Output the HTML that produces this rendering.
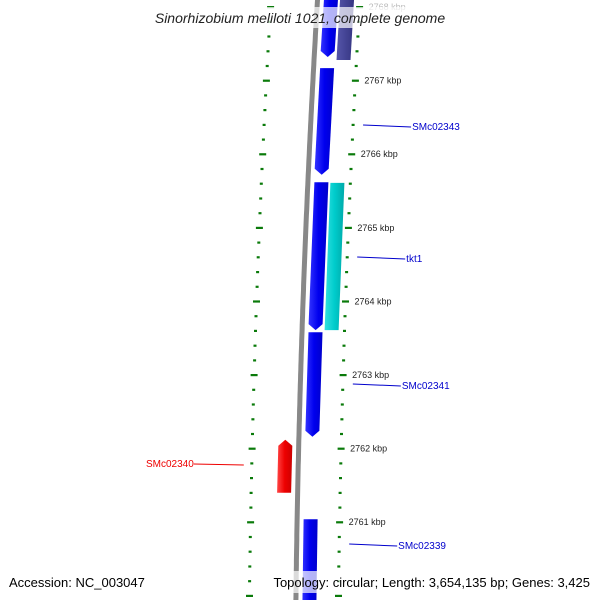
<!DOCTYPE html>
<html><head><meta charset="utf-8"><style>
html,body{margin:0;padding:0;background:#fff;}
svg{display:block;font-family:"Liberation Sans","DejaVu Sans",sans-serif;}
</style></head><body>
<svg id="map" width="600" height="600" viewBox="0 0 600 600" xmlns="http://www.w3.org/2000/svg">
<defs>
<linearGradient id="gb" x1="0" x2="1"><stop offset="0" stop-color="#3333ff"/><stop offset="0.5" stop-color="#0000ee"/><stop offset="1" stop-color="#0000cc"/></linearGradient>
<linearGradient id="gc" x1="0" x2="1"><stop offset="0" stop-color="#33e0e0"/><stop offset="0.5" stop-color="#00cccc"/><stop offset="1" stop-color="#00aaaa"/></linearGradient>
<linearGradient id="gr" x1="0" x2="1"><stop offset="0" stop-color="#ff4444"/><stop offset="0.5" stop-color="#ee0000"/><stop offset="1" stop-color="#cc0000"/></linearGradient>
<linearGradient id="gp" x1="0" x2="1"><stop offset="0" stop-color="#5555aa"/><stop offset="1" stop-color="#33337f"/></linearGradient>
</defs>
<g id="ticks"></g>
<g id="backbone"></g>
<g id="genes"></g>
<g id="labels"></g>
<rect x="130" y="7" width="340" height="21" fill="#fff" opacity="0.7"/>
<text x="300" y="23" text-anchor="middle" font-size="14" font-style="italic" fill="#222">Sinorhizobium meliloti 1021, complete genome</text>
<rect x="255" y="571" width="345" height="22" fill="#fff" opacity="0.7"/>
<text x="9" y="587" font-size="13" fill="#000">Accession: NC_003047</text>
<text x="590" y="587" text-anchor="end" font-size="13" fill="#000">Topology: circular; Length: 3,654,135 bp; Genes: 3,425</text>
</svg>
<script>
const majorTicks = [2768, 2767, 2766, 2765, 2764, 2763, 2762, 2761];
const tickLabels = ["2768 kbp","2767 kbp","2766 kbp","2765 kbp","2764 kbp","2763 kbp","2762 kbp","2761 kbp"];
const geneNames = ["g-top","g-purple","SMc02343","g-4","tkt1","SMc02341","SMc02340","SMc02339"];
const geneStart = [2768.3, 2768.3, 2767.17, 2765.62, 2765.61, 2763.58, 2762.12, 2761.04];
const geneEnd = [2767.32, 2767.28, 2765.72, 2763.61, 2763.61, 2762.16, 2761.40, 2759.7];
const geneLane = ["inner","outer","inner","inner","outer","inner","reverse","inner"];
const geneArrow = [true, false, true, true, false, true, true, false];
const geneLabelY = [null, null, 126, null, 258, 385, 463, 545];

const NS="http://www.w3.org/2000/svg";
function yOf(k){ return 7 + (2768 - k) * 73.6; }
function bx(y){ return 315 - 0.06*y + 0.00004*y*y; }
function mk(tag, attrs, parent){ const e=document.createElementNS(NS,tag); for(const a in attrs) e.setAttribute(a, attrs[a]); parent.appendChild(e); return e; }
const tg=document.getElementById('ticks'), bb=document.getElementById('backbone'), gg=document.getElementById('genes'), lg=document.getElementById('labels');

// backbone
let d=""; for(let y=-5;y<=605;y+=5){ d+=(y===-5?"M":"L")+(bx(y)+2.5).toFixed(1)+","+y; }
const bl=mk('path',{d:d,stroke:'#888',"stroke-width":5,fill:'none'},bb);



// ticks
for(let k=2768.4;k>=2759.8;k-=0.2){
  const kk=Math.round(k*10)/10; const y=yOf(kk); if(y<-3||y>603) continue;
  const major=Math.abs(kk-Math.round(kk))<0.01;
  const w=major?7:3;
  for(const off of [45,-44]){
    const t=mk('rect',{x:(bx(y)+off-w/2).toFixed(1),y:(y-1).toFixed(1),width:w,height:2.2,fill:'#0a7a0a'},tg);
    
    
  }
}
majorTicks.forEach((k,i)=>{
  const y=yOf(k);
  const t=mk('text',{x:(bx(y)+54).toFixed(1),y:(y+3).toFixed(1),"font-size":9,fill:i===0?'#bbb':'#222'},tg);
  t.textContent=tickLabels[i];
  
  
});

// genes
const lanes={inner:[9,23],outer:[25,39],reverse:[-18,-4]};
geneNames.forEach((n,i)=>{
  const y1=yOf(geneStart[i]), y2=yOf(geneEnd[i]);
  const [a,b]=lanes[geneLane[i]];
  const fill = geneLane[i]==='reverse'?'url(#gr)':(i===1?'url(#gp)':(i===4?'url(#gc)':'url(#gb)'));
  let pts;
  if(geneLane[i]==='reverse'){
    const xl=bx(y2)+a, xr=bx(y2)+b, xl1=bx(y1)+a, xr1=bx(y1)+b;
    pts=geneArrow[i]?[[xl,y2],[xr,y2],[xr1,y1+6],[(xl1+xr1)/2,y1],[xl1,y1+6]]:[[xl,y2],[xr,y2],[xr1,y1],[xl1,y1]];
  } else {
    const xl1=bx(y1)+a, xr1=bx(y1)+b, xl=bx(y2)+a, xr=bx(y2)+b;
    pts=geneArrow[i]?[[xl1,y1],[xr1,y1],[xr,y2-6],[(xl+xr)/2,y2],[xl,y2-6]]:[[xl1,y1],[xr1,y1],[xr,y2],[xl,y2]];
  }
  const p=mk('polygon',{points:pts.map(q=>q[0].toFixed(1)+","+q[1].toFixed(1)).join(" "),fill:fill},gg);
  
  
  if(geneLabelY[i]!==null){
    const ly=geneLabelY[i];
    const col=geneLane[i]==='reverse'?'#e00':'#00c';
    if(geneLane[i]==='reverse'){
      const x0=bx(ly)-52;
      const l=mk('line',{x1:x0,y1:ly+2,x2:x0-50,y2:ly+1,stroke:col,"stroke-width":1},lg);
      
      
      const t=mk('text',{x:x0-50,y:ly+4,"text-anchor":"end","font-size":10,fill:col},lg);
      t.textContent=n;
      
      
    } else {
      const x0=bx(ly)+55;
      const l=mk('line',{x1:x0,y1:ly-1,x2:x0+48,y2:ly+1,stroke:col,"stroke-width":1},lg);
      
      
      const t=mk('text',{x:x0+49,y:ly+4,"font-size":10,fill:col},lg);
      t.textContent=n;
      
      
    }
  }
});
</script>
</body></html>
